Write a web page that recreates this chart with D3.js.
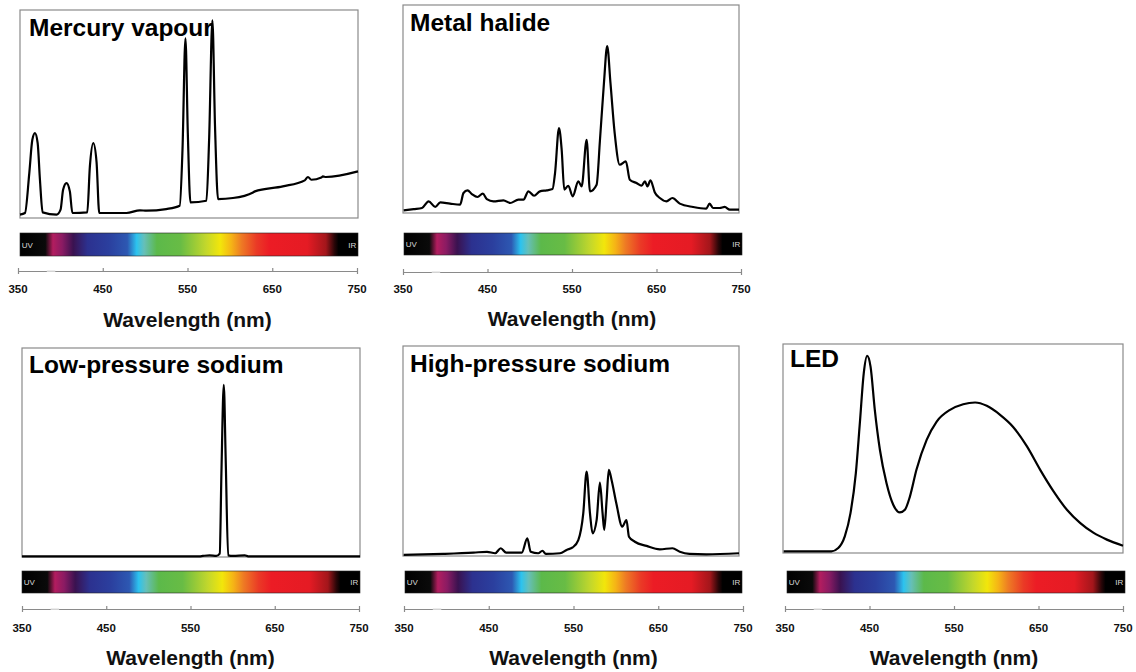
<!DOCTYPE html>
<html>
<head>
<meta charset="utf-8">
<script src="https://cdn.jsdelivr.net/npm/d3@7"></script>
<style>
  html, body { margin: 0; padding: 0; background: #fff; }
  svg { display: block; }
  text { font-family: "Liberation Sans", Arial, Helvetica, sans-serif; }
</style>
</head>
<body>
<svg id="chart" width="1136" height="672"></svg>
<script>
// ---------------- DATA ----------------
const tickValues = [350, 450, 550, 650, 750];
const axisLabel = "Wavelength (nm)";

// Mercury vapour (wavelength nm, relative intensity % of panel height)
const mercuryWl  = [350, 355.9, 361, 364.6, 367.7, 370.9, 373.6, 376.8, 393.3, 398, 401, 405, 409, 412, 429.6, 432.7, 436.7, 440.6, 443.8, 476, 492, 499.7, 523, 539, 542.3, 545.8, 548.6, 551.7, 570.6, 573.8, 577.7, 580.8, 584.4, 602, 625.8, 628, 661, 687, 690.8, 694.8, 706.6, 708.5, 712, 750];
const mercuryInt = [1.6, 2.4, 21.6, 37.6, 40.8, 36, 18.4, 2.7, 1.6, 4, 13.6, 16.8, 12.8, 2.4, 2.7, 24.8, 36, 26.9, 2.4, 2.4, 3.7, 3.5, 4.3, 5.9, 32.8, 86.4, 40.8, 7.5, 8.3, 37.6, 95, 44, 9.1, 9.6, 12.3, 12.8, 15.2, 18.1, 19.7, 18.4, 19.5, 20, 19.7, 22.4];

// Metal halide
const metalWl  = [350.8, 362.7, 372.6, 380.5, 388.4, 394.4, 406, 418, 422, 426.8, 432, 438.7, 445, 449.8, 457.7, 469.6, 477.5, 487.4, 493.4, 499.3, 506, 513, 521, 528, 531, 535.7, 538.9, 542, 546.8, 552, 558.7, 562.7, 568.6, 572.6, 580.5, 584.5, 589.2, 593.1, 597, 602, 608, 615.3, 620, 628, 634, 638, 641, 644.6, 649.8, 655.8, 663.6, 670.8, 679.5, 695.3, 711, 715, 719, 727, 733, 739, 750];
const metalInt = [1.3, 1.9, 2.4, 5.6, 2.9, 5.1, 4.5, 4, 9.6, 10.9, 9.1, 7.7, 9.3, 6.7, 5.6, 6.1, 4.8, 6.4, 6.4, 10.4, 8.3, 10.4, 10.9, 11.5, 19.2, 40.8, 30.4, 11.2, 13.1, 8, 15.2, 12.8, 35.2, 10.4, 13.6, 35.2, 62.4, 80.3, 62.4, 38.4, 23.2, 24.8, 16, 14.4, 13.1, 15.2, 12.8, 15.7, 9.9, 7.2, 5.6, 7.2, 4.5, 2.9, 2.1, 4.5, 2.4, 2.4, 2.9, 1.6, 1.6];

// Low-pressure sodium
const lpsWl  = [350, 560, 564, 572, 580, 584, 586, 588.8, 591, 594, 600, 613.7, 617.6, 750];
const lpsInt = [0.3, 0.3, 0.5, 0.8, 0.5, 1.6, 40, 82.4, 48, 0.8, 0.5, 0.8, 0.3, 0.3];

// High-pressure sodium
const hpsWl  = [350.8, 398, 434, 450, 459.7, 466.4, 472.8, 491.4, 498, 502, 511, 516, 520, 537, 544.8, 552, 558.7, 564.6, 568.6, 572.6, 575.7, 580.5, 584.4, 587.6, 589.6, 592.4, 595, 598.3, 604, 611, 616, 619, 626, 640, 655.7, 670.8, 679.5, 691, 711, 750];
const hpsInt = [0.5, 1, 1.6, 2, 1.3, 3.7, 1.6, 1.6, 8.4, 2, 1.3, 2.5, 1, 1.3, 2.9, 4.1, 7.6, 20.3, 40.2, 20.3, 10.8, 17.1, 34.9, 20.3, 12.4, 26.7, 41, 36.2, 25, 14, 17.1, 9.2, 6.8, 4.8, 3.2, 3.7, 2, 1, 0.8, 1.3];

// LED
const ledWl  = [350.8, 381.4, 407, 415, 422.7, 429.4, 435.7, 440.4, 445, 449, 453, 458, 464, 471.8, 479.7, 487.5, 493.4, 499.3, 507, 519, 530.8, 546.5, 562, 576, 589.7, 605.4, 621, 637, 652.6, 668.3, 684, 699.8, 715.5, 731, 750];
const ledInt = [0.8, 0.8, 0.8, 2.4, 8, 19.1, 38.2, 62.1, 86, 94.3, 89.2, 68.5, 49.4, 33.4, 23.1, 19.4, 20.7, 27, 39.8, 54.1, 62.9, 68.5, 71.2, 72, 70.4, 66.1, 60.2, 51, 39.8, 29.5, 20.7, 14.3, 9.6, 6.4, 3.5];

// Visible-spectrum colour bar
const spectrumNm     = [350, 380, 389, 400, 413, 430, 455, 477, 488, 497, 512, 540, 570, 587, 600, 612, 630, 645, 690, 712, 722, 727, 750];
const spectrumColors = ["#000000", "#0a0a0a", "#b31d5f", "#8a1b63", "#3a1250", "#2c318f", "#2b3f9e", "#2d58b2", "#2cc3ef", "#66bfb8", "#5cb94a", "#68bc45", "#c2d72c", "#f2e60b", "#f5b416", "#ee7b24", "#ea3a26", "#ec1c25", "#e51b24", "#a3161b", "#2a0608", "#000000", "#000000"];

const lampNames = ["Mercury vapour", "Metal halide", "Low-pressure sodium", "High-pressure sodium", "LED"];

// ---------------- LAYOUT ----------------
const panels = [
  { name: lampNames[0], wl: mercuryWl, v: mercuryInt,
    box: [20, 10, 358, 218], bar: [20, 233, 358, 256], axis: [18, 357, 271], tickY: 293, labY: 327, title: [29, 36] },
  { name: lampNames[1], wl: metalWl, v: metalInt,
    box: [403, 5, 739, 213], bar: [404, 233, 742, 255], axis: [403, 741, 272], tickY: 293, labY: 326, title: [410, 31] },
  { name: lampNames[2], wl: lpsWl, v: lpsInt,
    box: [22, 348, 360, 557], bar: [22, 571, 360, 593], axis: [22, 359, 609], tickY: 632, labY: 665, title: [29, 373] },
  { name: lampNames[3], wl: hpsWl, v: hpsInt,
    box: [403, 346, 739, 556], bar: [405, 571, 742, 593], axis: [404, 743, 609], tickY: 632, labY: 665, title: [410, 372] },
  { name: lampNames[4], wl: ledWl, v: ledInt,
    box: [783, 344, 1123, 553], bar: [787, 571, 1125, 593], axis: [785, 1123, 609], tickY: 632, labY: 665, title: [790, 367] }
];

const svg = d3.select("#chart");
const defs = svg.append("defs");

const grad = defs.append("linearGradient")
  .attr("id", "spectrum").attr("x1", "0%").attr("x2", "100%").attr("y1", "0%").attr("y2", "0%");
grad.selectAll("stop").data(spectrumNm).join("stop")
  .attr("offset", d => ((d - 350) / 400 * 100) + "%")
  .attr("stop-color", (d, i) => spectrumColors[i]);

panels.forEach(p => {
  const g = svg.append("g");
  const [bx0, by0, bx1, by1] = p.box;

  const x = d3.scaleLinear().domain([350, 750]).range([bx0, bx1]);
  const y = d3.scaleLinear().domain([0, 100]).range([by1, by0]);

  // frame
  g.append("rect")
    .attr("x", bx0).attr("y", by0).attr("width", bx1 - bx0).attr("height", by1 - by0)
    .attr("fill", "#fff").attr("stroke", "#8a8a8a").attr("stroke-width", 1.2);

  // spectrum line
  const pts = p.wl.map((w, i) => [w, p.v[i]]);
  const line = d3.line().x(d => x(d[0])).y(d => y(d[1])).curve(d3.curveMonotoneX);
  g.append("path").datum(pts)
    .attr("d", line).attr("fill", "none")
    .attr("stroke", "#000").attr("stroke-width", 2.2).attr("stroke-linejoin", "round");

  // title
  g.append("text")
    .attr("x", p.title[0]).attr("y", p.title[1])
    .attr("font-size", 24.5).attr("font-weight", "bold").attr("fill", "#000")
    .text(p.name);

  // colour bar
  const [cx0, cy0, cx1, cy1] = p.bar;
  const xb = d3.scaleLinear().domain([350, 750]).range([cx0, cx1]);
  g.append("rect")
    .attr("x", cx0).attr("y", cy0).attr("width", cx1 - cx0).attr("height", cy1 - cy0)
    .attr("fill", "url(#spectrum)").attr("stroke", "#222").attr("stroke-width", 0.6);
  g.append("text").attr("x", xb(352)).attr("y", (cy0 + cy1) / 2 + 3)
    .attr("font-size", 8).attr("fill", "#d8d8d8").text("UV");
  g.append("text").attr("x", xb(748)).attr("y", (cy0 + cy1) / 2 + 3)
    .attr("text-anchor", "end")
    .attr("font-size", 8).attr("fill", "#d8d8d8").text("IR");

  // axis
  const [ax0, ax1, ay] = p.axis;
  const xa = d3.scaleLinear().domain([350, 750]).range([ax0, ax1]);
  const axis = d3.axisBottom(xa).tickValues(tickValues).tickSize(-3).tickSizeOuter(3).tickFormat(d3.format("d"));
  const ag = g.append("g").attr("transform", `translate(0,${ay})`).call(axis);
  ag.select(".domain").attr("stroke", "#8a8a8a").attr("stroke-width", 1.2);
  ag.selectAll(".tick line").attr("stroke", "#8a8a8a").attr("stroke-width", 1.2);
  ag.selectAll(".tick text").remove();
  // small faint gap in the axis rule (as in the original figure)
  g.append("line")
    .attr("x1", xa(384)).attr("x2", xa(394)).attr("y1", ay).attr("y2", ay)
    .attr("stroke", "#e6e6e6").attr("stroke-width", 1.6);

  g.selectAll("text.tl").data(tickValues).join("text")
    .attr("class", "tl")
    .attr("x", d => xa(d)).attr("y", p.tickY)
    .attr("text-anchor", "middle")
    .attr("font-size", 11.5).attr("font-weight", "bold").attr("fill", "#111")
    .text(d => d);

  g.append("text")
    .attr("x", (ax0 + ax1) / 2).attr("y", p.labY)
    .attr("text-anchor", "middle")
    .attr("font-size", 21).attr("font-weight", "bold").attr("fill", "#111")
    .text(axisLabel);
});
</script>
</body>
</html>
